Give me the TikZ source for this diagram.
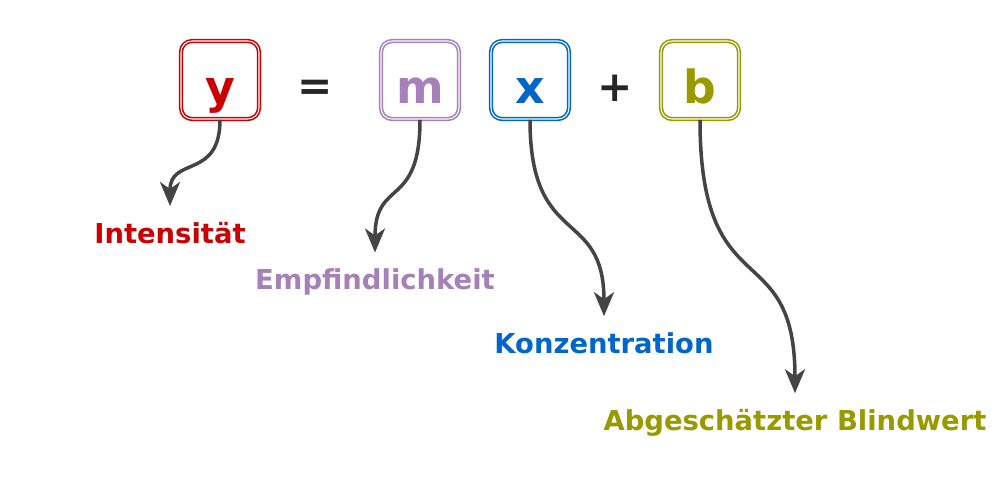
\documentclass[tikz,border=0pt]{standalone}
\usepackage{fontspec}
\setmainfont{DejaVu Sans}
\usetikzlibrary{arrows.meta}

\definecolor{yred}{HTML}{CC0000}
\definecolor{mlila}{HTML}{A680B8}
\definecolor{xblau}{HTML}{0066CC}
\definecolor{boliv}{HTML}{999900}
\definecolor{pfeil}{HTML}{444444}

\tikzset{
  glyphbox/.style={draw=#1, text=#1, double=white, double distance=0.3pt, line width=0.45pt,
    rounded corners=1.1mm, minimum size=7.8mm, inner sep=0pt, text height=5mm, text depth=0.4mm,
    font=\fontsize{13}{13}\selectfont\bfseries},
  opsign/.style={font=\fontsize{12}{12}\selectfont\bfseries, text=black!85},
  termlabel/.style={text=#1, font=\fontsize{7.8}{9}\selectfont\bfseries, inner sep=1pt},
  hinweis/.style={draw=pfeil, line width=1pt, -{Stealth[length=2.4mm, width=2mm, inset=0.7mm]}}
}

\begin{document}
\begin{tikzpicture}[x=0.1mm, y=-0.1mm]
  \useasboundingbox[fill=white] (0,0) rectangle (1000,501);

  % gleichung
  \node[glyphbox=yred]  (ybox) at (220,80) {y};
  \node[opsign]         (gleich) at (315,90) {=};
  \node[glyphbox=mlila] (mbox) at (420,80) {m};
  \node[glyphbox=xblau] (xbox) at (530,80) {x};
  \node[opsign]         (plus) at (615,88) {+};
  \node[glyphbox=boliv] (bbox) at (700,80) {b};

  % beschriftungen
  \node[termlabel=yred]  (ylab) at (170,233) {Intensität};
  \node[termlabel=mlila] (mlab) at (375,282) {Empfindlichkeit};
  \node[termlabel=xblau] (xlab) at (604,343) {Konzentration};
  \node[termlabel=boliv] (blab) at (795,423) {Abgeschätzter Blindwert};

  % pfeile
  \draw[hinweis] (ybox.south) .. controls +(0,60) and +(0,-50) .. ([yshift=1.2mm]ylab.north);
  \draw[hinweis] (mbox.south) .. controls +(0,90) and +(0,-75) .. ([yshift=1.2mm]mlab.north);
  \draw[hinweis] (xbox.south) .. controls +(0,130) and +(0,-110) .. ([yshift=1.2mm]xlab.north);
  \draw[hinweis] (bbox.south) .. controls +(0,190) and +(0,-160) .. ([yshift=1.2mm]blab.north);
\end{tikzpicture}
\end{document}
